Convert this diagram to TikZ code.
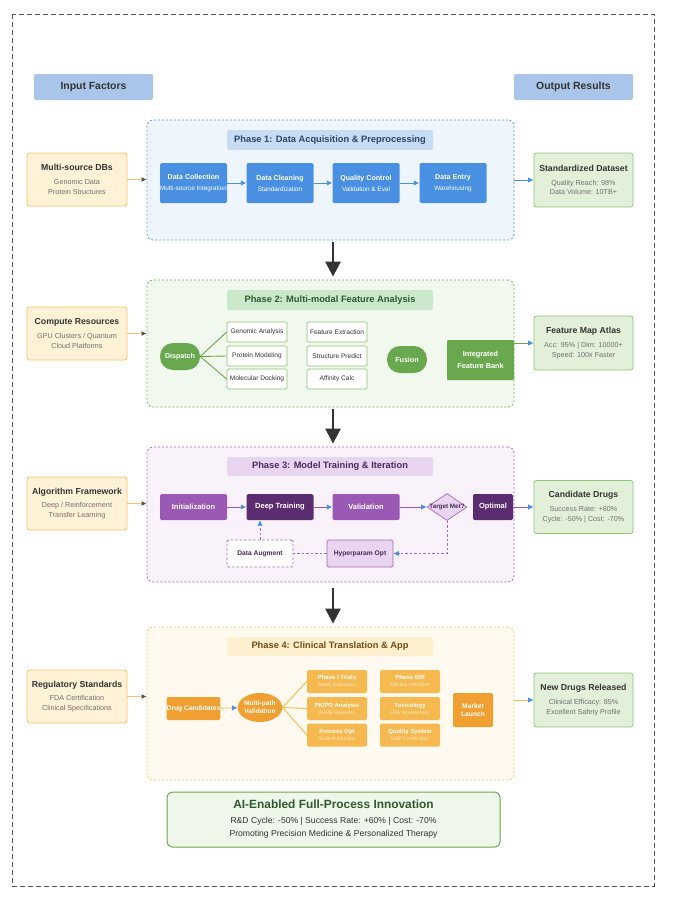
\documentclass[tikz,border=0pt]{standalone}
\usepackage{fontspec}
\setmainfont{Liberation Sans}
\usetikzlibrary{arrows.meta,shapes.geometric}
\definecolor{hdrFill}{HTML}{A9C6EA}
\definecolor{txtDark}{HTML}{333333}
\definecolor{txtGray}{HTML}{707070}
\definecolor{inFill}{HTML}{FFF2D6}
\definecolor{inBorder}{HTML}{F2C46A}
\definecolor{outFill}{HTML}{E2F0DA}
\definecolor{outBorder}{HTML}{8EC474}
\definecolor{pOneFill}{HTML}{EEF5FD}
\definecolor{pOneBorder}{HTML}{5B9BD5}
\definecolor{pOneTitle}{HTML}{C7DBF3}
\definecolor{pOneTitleText}{HTML}{2B4766}
\definecolor{pOneNode}{HTML}{4A90E2}
\definecolor{pTwoFill}{HTML}{F1F8EE}
\definecolor{pTwoBorder}{HTML}{7CB65C}
\definecolor{pTwoTitle}{HTML}{CCE8CC}
\definecolor{pTwoTitleText}{HTML}{2D5A2D}
\definecolor{pTwoNode}{HTML}{6AA84F}
\definecolor{pTwoLine}{HTML}{8CC46C}
\definecolor{pThreeFill}{HTML}{FAF2FB}
\definecolor{pThreeBorder}{HTML}{A569BD}
\definecolor{pThreeTitle}{HTML}{E8D5EF}
\definecolor{pThreeTitleText}{HTML}{4A2A5C}
\definecolor{pThreeMid}{HTML}{9B59B6}
\definecolor{pThreeDark}{HTML}{5B2C6F}
\definecolor{pFourFill}{HTML}{FFF9EF}
\definecolor{pFourBorder}{HTML}{F2C36B}
\definecolor{pFourTitle}{HTML}{FCF0CF}
\definecolor{pFourTitleText}{HTML}{7A4B12}
\definecolor{pFourOrg}{HTML}{F0A030}
\definecolor{pFourLight}{HTML}{F5B950}
\definecolor{pFourSub}{HTML}{FDE9C4}
\definecolor{botFill}{HTML}{EEF7EA}
\definecolor{botBorder}{HTML}{6AA84F}
\definecolor{arrowBlue}{HTML}{4A90E2}
\definecolor{outerDash}{HTML}{555555}
\newcommand{\fz}[2]{\fontsize{#1}{#2}\selectfont}
\newcommand{\ioT}[3]{{\bfseries\fz{8.7}{9}\color{txtDark}#1}\\[4pt]{\color{txtGray}#2}\\{\color{txtGray}#3}}
\newcommand{\pOneT}[2]{{\bfseries\fz{7.1}{8}#1}\\[3pt]{#2}}
\newcommand{\pFourT}[2]{{\bfseries\fz{6}{7}#1}\\[1pt]{\color{pFourSub}#2}}
\tikzset{
  hdr/.style={fill=hdrFill, rounded corners=2pt, minimum width=119pt, minimum height=26pt, inner sep=0pt, font=\bfseries\fz{10.4}{12}, text=txtDark},
  inbox/.style={draw=inBorder, fill=inFill, line width=0.8pt, rounded corners=2.5pt, minimum width=100pt, minimum height=53pt, inner sep=1pt, align=center, font=\fz{7.2}{9.8}},
  outbox/.style={draw=outBorder, fill=outFill, line width=0.8pt, rounded corners=2.5pt, minimum width=99pt, minimum height=54pt, inner sep=1pt, align=center, font=\fz{7.2}{9.8}},
  phase/.style={rounded corners=6pt, line width=0.8pt, dash pattern=on 2pt off 2pt, minimum width=367pt, inner sep=0pt},
  ttl/.style={rounded corners=2pt, minimum width=206pt, minimum height=20pt, inner sep=0pt, font=\bfseries\fz{9.3}{10}},
  bluebox/.style={fill=pOneNode, rounded corners=1.5pt, minimum width=67pt, minimum height=40pt, inner sep=0pt, text=white, align=center, font=\fz{6.4}{8}},
  pill/.style={fill=pTwoNode, rounded corners=13pt, minimum width=40pt, minimum height=27pt, inner sep=0pt, text=white, font=\bfseries\fz{7.1}{8}},
  wbox/.style={draw=pTwoLine, fill=white, line width=0.7pt, rounded corners=1.5pt, minimum width=60pt, minimum height=20pt, inner sep=0pt, text=txtDark, font=\fz{6.6}{7}},
  gbank/.style={fill=pTwoNode, rounded corners=1pt, minimum width=67pt, minimum height=40pt, inner sep=0pt, text=white, align=center, font=\bfseries\fz{7.3}{11.5}},
  midp/.style={fill=pThreeMid, rounded corners=1.5pt, minimum width=67pt, minimum height=26pt, inner sep=0pt, text=white, font=\bfseries\fz{7.5}{8}},
  darkp/.style={fill=pThreeDark, rounded corners=1.5pt, minimum width=67pt, minimum height=26pt, inner sep=0pt, text=white, font=\bfseries\fz{7.5}{8}},
  orgbox/.style={fill=pFourOrg, rounded corners=1.5pt, inner sep=0pt, text=white, align=center, font=\bfseries\fz{6.7}{8.5}},
  litbox/.style={fill=pFourLight, rounded corners=1.5pt, minimum width=60pt, minimum height=23pt, inner sep=0pt, text=white, align=center, font=\fz{4.9}{6}},
  inarrow/.style={draw=inBorder, line width=0.9pt, -{Latex[length=5pt,width=5pt,color=outerDash]}},
  flow/.style={draw=#1, line width=0.9pt, -{Latex[length=5.5pt,width=5.5pt,color=arrowBlue]}},
  dashflow/.style={draw=pThreeBorder, line width=0.8pt, dash pattern=on 2.5pt off 2pt, -{Latex[length=5.5pt,width=5.5pt,color=arrowBlue]}},
  dashline/.style={draw=pThreeBorder, line width=0.8pt, dash pattern=on 2.5pt off 2pt},
  branch/.style={draw=#1, line width=0.9pt},
  bigarrow/.style={draw=txtDark, line width=2.6pt, -{Triangle[length=15pt,width=15pt]}}
}
\begin{document}
\begin{tikzpicture}[x=1pt,y=-1pt]
\useasboundingbox (0,0) rectangle (676,900);
\fill[white] (0,0) rectangle (676,900);
\draw[outerDash, line width=0.8pt, dash pattern=on 5pt off 3pt] (12,14) rectangle (654,886);

% headers
\node[hdr] (inH) at (93.5,87) {Input Factors};
\node[hdr] (outH) at (573.5,87) {Output Results};

% ---------- Phase 1 ----------
\node[phase, draw=pOneBorder, fill=pOneFill, minimum height=120pt] (p1) at (330.5,180) {};
\node[ttl, fill=pOneTitle, text=pOneTitleText] (t1) at (330,140) {Phase 1: Data Acquisition \& Preprocessing};
\node[bluebox] (dc) at (193.5,183) {\pOneT{Data Collection}{Multi-source Integration}};
\node[bluebox] (dcl) at (280,183) {\pOneT{Data Cleaning}{Standardization}};
\node[bluebox] (qc) at (366,183) {\pOneT{Quality Control}{Validation \& Eval}};
\node[bluebox] (de) at (453,183) {\pOneT{Data Entry}{Warehousing}};
\draw[flow=pOneNode] (dc) -- (dcl);
\draw[flow=pOneNode] (dcl) -- (qc);
\draw[flow=pOneNode] (qc) -- (de);
\node[inbox] (db) at (77,179.5) {\ioT{Multi-source DBs}{Genomic Data}{Protein Structures}};
\node[outbox] (sd) at (583.5,180) {\ioT{Standardized Dataset}{Quality Reach: 98\%}{Data Volume: 10TB+}};
\draw[inarrow] (db.east) -- (db.east -| p1.west);
\draw[flow=pOneNode] (p1.east |- sd.west) -- (sd.west);

% ---------- Phase 2 ----------
\node[phase, draw=pTwoBorder, fill=pTwoFill, minimum height=127pt] (p2) at (330.5,343.5) {};
\node[ttl, fill=pTwoTitle, text=pTwoTitleText] (t2) at (330,300) {Phase 2: Multi-modal Feature Analysis};
\node[pill] (disp) at (180,356.5) {Dispatch};
\node[wbox] (ga) at (257,332) {Genomic Analysis};
\node[wbox] (pm) at (257,356) {Protein Modeling};
\node[wbox] (md) at (257,379) {Molecular Docking};
\node[wbox] (fe) at (337,332) {Feature Extraction};
\node[wbox] (sp) at (337,356) {Structure Predict};
\node[wbox] (ac) at (337,379) {Affinity Calc};
\node[pill] (fus) at (407,359.5) {Fusion};
\node[gbank] (ifb) at (480.5,360) {Integrated\\Feature Bank};
\draw[branch=pTwoNode] (disp.east) -- (ga.west);
\draw[branch=pTwoNode] (disp.east) -- (pm.west);
\draw[branch=pTwoNode] (disp.east) -- (md.west);
\node[inbox] (cr) at (77,333.5) {\ioT{Compute Resources}{GPU Clusters / Quantum}{Cloud Platforms}};
\node[outbox] (fma) at (583.5,343) {\ioT{Feature Map Atlas}{Acc: 95\% | Dim: 10000+}{Speed: 100x Faster}};
\draw[inarrow] (cr.east) -- (cr.east -| p2.west);
\draw[flow=pTwoNode] (ifb.east |- fma.west) -- (fma.west);

% ---------- Phase 3 ----------
\node[phase, draw=pThreeBorder, fill=pThreeFill, minimum height=135pt] (p3) at (330.5,514.5) {};
\node[ttl, fill=pThreeTitle, text=pThreeTitleText, minimum height=19pt] (t3) at (330,466.5) {Phase 3: Model Training \& Iteration};
\node[midp] (ini) at (193.5,507) {Initialization};
\node[darkp] (dt) at (280,507) {Deep Training};
\node[midp] (val) at (366,507) {Validation};
\node[diamond, aspect=1.48, draw=pThreeBorder, fill=pThreeTitle, line width=0.7pt, inner sep=0pt, minimum width=40pt, minimum height=27pt] (tm) at (447,507) {};
\node[inner sep=0pt, text=pThreeTitleText, font=\bfseries\fz{6.3}{7}] (tmtext) at (tm.center) {Target Met?};
\node[darkp, minimum width=40pt] (opt) at (493,507) {Optimal};
\node[draw=pThreeBorder, fill=white, dash pattern=on 2.5pt off 2pt, line width=0.8pt, rounded corners=1.5pt, minimum width=66pt, minimum height=27pt, inner sep=0pt, text=pThreeTitleText, font=\bfseries\fz{6.7}{7}] (da) at (260,553.5) {Data Augment};
\node[draw=pThreeBorder, fill=pThreeTitle, line width=0.8pt, rounded corners=1.5pt, minimum width=66pt, minimum height=27pt, inner sep=0pt, text=pThreeTitleText, font=\bfseries\fz{6.7}{7}] (hp) at (360,553.5) {Hyperparam Opt};
\draw[flow=pThreeMid] (ini) -- (dt);
\draw[flow=pThreeMid] (dt) -- (val);
\draw[flow=pThreeMid] (val) -- (tm);
\draw[dashflow] (tm.south) |- (hp.east);
\draw[dashline] (hp.west) -- (da.east);
\draw[dashflow] (da.north) -- (da.north |- dt.south);
\node[inbox] (af) at (77,503.5) {\ioT{Algorithm Framework}{Deep / Reinforcement}{Transfer Learning}};
\node[outbox, minimum height=53pt] (cd) at (583.5,507) {\ioT{Candidate Drugs}{Success Rate: +60\%}{Cycle: -50\% | Cost: -70\%}};
\draw[inarrow] (af.east) -- (af.east -| p3.west);
\draw[flow=pThreeMid] (opt.east) -- (cd.west);

% ---------- Phase 4 ----------
\node[phase, draw=pFourBorder, fill=pFourFill, minimum height=153pt] (p4) at (330.5,703.5) {};
\node[ttl, fill=pFourTitle, text=pFourTitleText, minimum height=19pt] (t4) at (330,646.5) {Phase 4: Clinical Translation \& App};
\node[orgbox, minimum width=53pt, minimum height=23pt] (dcand) at (193.5,708.5) {Drug Candidates};
\node[ellipse, fill=pFourOrg, inner sep=0pt, minimum width=40pt, minimum height=29pt, text=white, align=center, font=\bfseries\fz{6.6}{8}] (mpv) at (260,707.5) {Multi-path\\Validation};
\node[litbox] (pi) at (337,681.5) {\pFourT{Phase I Trials}{Safety Evaluation}};
\node[litbox] (pk) at (337,708.5) {\pFourT{PK/PD Analysis}{ADME Research}};
\node[litbox] (po) at (337,735) {\pFourT{Process Opt}{Scale Production}};
\node[litbox] (p23) at (410,681.5) {\pFourT{Phase II/III}{Efficacy Validation}};
\node[litbox] (tox) at (410,708.5) {\pFourT{Toxicology}{Risk Assessment}};
\node[litbox] (qs) at (410,735) {\pFourT{Quality System}{GMP Certification}};
\node[orgbox, minimum width=40pt, minimum height=34pt] (ml) at (473,710) {Market\\Launch};
\draw[flow=pFourLight] (dcand) -- (mpv);
\draw[branch=pFourLight] (mpv.east) -- (pi.west);
\draw[branch=pFourLight] (mpv.east) -- (pk.west);
\draw[branch=pFourLight] (mpv.east) -- (po.west);
\node[inbox] (rs) at (77,696.5) {\ioT{Regulatory Standards}{FDA Certification}{Clinical Specifications}};
\node[outbox] (ndr) at (583.5,700) {\ioT{New Drugs Released}{Clinical Efficacy: 85\%}{Excellent Safety Profile}};
\draw[inarrow] (rs.east) -- (rs.east -| p4.west);
\draw[flow=pFourLight] (p4.east |- ndr.west) -- (ndr.west);

% big arrows
\draw[bigarrow] ([xshift=2.5pt,yshift=-2pt]p1.south) -- ([xshift=2.5pt,yshift=3pt]p2.north);
\draw[bigarrow] ([xshift=2.5pt,yshift=-2pt]p2.south) -- ([xshift=2.5pt,yshift=3pt]p3.north);
\draw[bigarrow] ([xshift=2.5pt,yshift=-6pt]p3.south) -- ([xshift=2.5pt,yshift=3pt]p4.north);

% bottom summary
\node[draw=botBorder, fill=botFill, line width=1pt, rounded corners=5pt, minimum width=333pt, minimum height=55pt, inner sep=0pt, align=center, font=\fz{8.6}{13}, text=txtDark] (sum) at (333.5,819.5) {{\bfseries\fz{11.9}{13}\color{pTwoTitleText}AI-Enabled Full-Process Innovation}\\[2pt]R\&D Cycle: -50\% | Success Rate: +60\% | Cost: -70\%\\Promoting Precision Medicine \& Personalized Therapy};
\end{tikzpicture}
\end{document}
